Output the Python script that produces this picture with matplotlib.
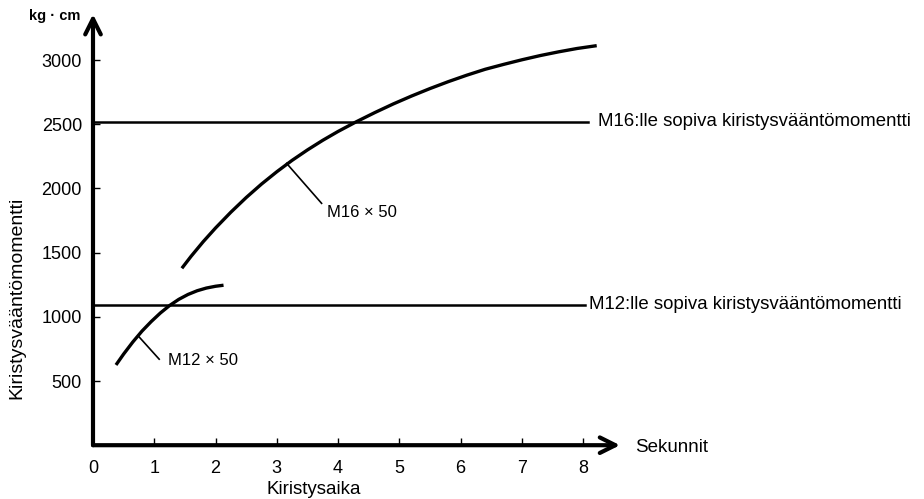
import matplotlib
matplotlib.use("Agg")
import matplotlib.pyplot as plt

plt.rcParams['font.family'] = ['Liberation Sans', 'DejaVu Sans']

# Data
m16_x = [1.45, 1.6, 1.8, 2.0, 2.25, 2.5, 2.75, 3.0, 3.25, 3.5, 3.75, 4.0, 4.3,
         4.6, 4.9, 5.2, 5.5, 5.8, 6.1, 6.4, 6.7, 7.0, 7.3, 7.6, 7.9, 8.22]
m16_y = [1378, 1471, 1586, 1692, 1815, 1929, 2034, 2130, 2219, 2300, 2375, 2444, 2520,
         2591, 2658, 2720, 2778, 2832, 2882, 2928, 2966, 3002, 3035, 3064, 3090, 3112]
m12_x = [0.375, 0.5, 0.65, 0.8, 0.95, 1.1, 1.25, 1.4, 1.55, 1.7, 1.85, 2.0, 2.13]
m12_y = [625, 710, 804, 889, 963, 1030, 1088, 1136, 1174, 1203, 1224, 1238, 1246]
m16_torque = 2520
m12_torque = 1095
x_ticks = [0, 1, 2, 3, 4, 5, 6, 7, 8]
y_ticks = [500, 1000, 1500, 2000, 2500, 3000]

W, H = 924, 499
fig = plt.figure(figsize=(W / 100, H / 100), dpi=100)
ax = fig.add_axes([93 / W, 53.8 / H, 527 / W, 431 / H])
ax.set_xlim(0, 8.6)
ax.set_ylim(0, 3357)
for s in ax.spines.values():
    s.set_visible(False)
ax.patch.set_alpha(0)

# axes with arrows
ax.annotate('', xy=(1.0, 0), xytext=(0, 0), xycoords='axes fraction',
            arrowprops=dict(arrowstyle='->', lw=3, color='black', mutation_scale=28,
                            shrinkA=0, shrinkB=0))
ax.annotate('', xy=(0, 1.0), xytext=(0, 0), xycoords='axes fraction',
            arrowprops=dict(arrowstyle='->', lw=3, color='black', mutation_scale=28,
                            shrinkA=0, shrinkB=0))

ax.set_xticks(x_ticks)
ax.set_xticklabels([str(v) for v in x_ticks])
ax.set_yticks(y_ticks)
ax.set_yticklabels([str(v) for v in y_ticks])
ax.tick_params(axis='x', direction='in', length=5, width=1, pad=11, labelsize=13)
ax.tick_params(axis='y', direction='in', length=5, width=1, pad=8, labelsize=13)

# reference lines
ax.plot([0, 8.08], [m16_torque, m16_torque], color='black', lw=1.8)
ax.plot([0, 8.03], [m12_torque, m12_torque], color='black', lw=1.8)

# curves
ax.plot(m16_x, m16_y, color='black', lw=2.4, solid_capstyle='butt')
ax.plot(m12_x, m12_y, color='black', lw=2.4, solid_capstyle='butt')

# leaders and labels
ax.plot([3.16, 3.73], [2195, 1884], color='black', lw=1.2)
ax.text(3.82, 1816, 'M16 × 50', fontsize=12, va='center', ha='left')
ax.plot([0.74, 1.08], [850, 670], color='black', lw=1.2)
ax.text(1.23, 663, 'M12 × 50', fontsize=12, va='center', ha='left')

ax.text(8.24, m16_torque, 'M16:lle sopiva kiristysvääntömomentti', fontsize=13.4,
        va='center', ha='left', clip_on=False)
ax.text(8.1, m12_torque, 'M12:lle sopiva kiristysvääntömomentti', fontsize=13.4,
        va='center', ha='left', clip_on=False)

fig.text(635 / W, 1 - 447 / H, 'Sekunnit', fontsize=13.5, va='center', ha='left')
fig.text(314 / W, 1 - 489 / H, 'Kiristysaika', fontsize=13.5, va='center', ha='center')
fig.text(17 / W, 1 - 298 / H, 'Kiristysvääntömomentti', fontsize=14, va='center',
         ha='center', rotation=90)
fig.text(55 / W, 1 - 16 / H, 'kg · cm', fontsize=10.5, fontweight='bold', va='center', ha='center')

fig.savefig('out.png', dpi=100)
